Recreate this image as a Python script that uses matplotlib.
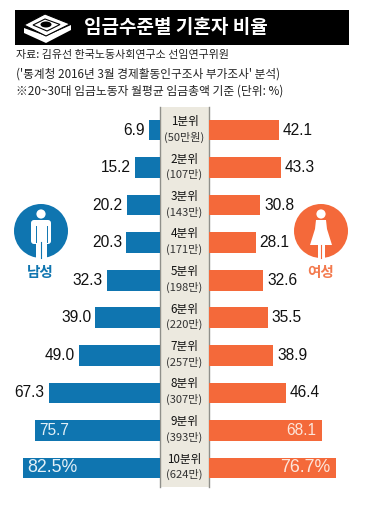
import matplotlib
matplotlib.use('Agg')
import matplotlib.pyplot as plt
from matplotlib.patches import Circle, Polygon, Rectangle, FancyBboxPatch, Ellipse

plt.rcParams['font.family'] = ['Noto Sans CJK KR', 'DejaVu Sans']
NUM = ['Liberation Sans', 'Noto Sans CJK KR']

deciles = ['1분위', '2분위', '3분위', '4분위', '5분위', '6분위', '7분위', '8분위', '9분위', '10분위']
wages = ['(50만원)', '(107만)', '(143만)', '(171만)', '(198만)', '(220만)', '(257만)', '(307만)', '(393만)', '(624만)']
male = [6.9, 15.2, 20.2, 20.3, 32.3, 39.0, 49.0, 67.3, 75.7, 82.5]
female = [42.1, 43.3, 30.8, 28.1, 32.6, 35.5, 38.9, 46.4, 68.1, 76.7]
male_labels = ['6.9', '15.2', '20.2', '20.3', '32.3', '39.0', '49.0', '67.3', '75.7', '82.5%']
female_labels = ['42.1', '43.3', '30.8', '28.1', '32.6', '35.5', '38.9', '46.4', '68.1', '76.7%']
title = '임금수준별 기혼자 비율'
notes = ['자료: 김유선 한국노동사회연구소 선임연구위원',
         "('통계청 2016년 3월 경제활동인구조사 부가조사' 분석)",
         '※20~30대 임금노동자 월평균 임금총액 기준 (단위: %)']

W, H = 371, 512
BLUE, ORANGE = '#0f75b0', '#f4693a'
fig = plt.figure(figsize=(W / 100, H / 100), dpi=100, facecolor='white')

bg = fig.add_axes([0, 0, 1, 1])
bg.set_xlim(0, W); bg.set_ylim(H, 0); bg.axis('off')

# header
bg.add_patch(Rectangle((15, 10), 334, 35, fc='black', ec='none'))
bg.add_patch(Polygon([[24, 28], [24, 33], [46, 43], [71, 30], [71, 25], [46, 36]], fc='white', ec='none'))
bg.add_patch(Polygon([[24, 25], [45, 14], [70, 24], [46, 36]], fc='white', ec='black', lw=0.8))
bg.add_patch(Polygon([[33, 25], [45, 19], [60, 24.5], [47, 31]], fc='white', ec='black', lw=0.8))
bg.add_patch(Ellipse((46, 24.5), 11, 6, fc='black', ec='none'))
bg.text(84, 27.5, title, color='white', fontsize=13.7, fontweight='bold', va='center', ha='left')
for txt, y, fs in zip(notes, [55, 74, 91], [7.9, 8.4, 8.5]):
    bg.text(16, y, txt, color='#222222', fontsize=fs, va='center', ha='left')

# centre column
bg.add_patch(Rectangle((160, 107), 49, 380, fc='#ece9df', ec='none'))
bg.plot([160, 160], [107, 487], color='#8f8f8a', lw=1)
bg.plot([209, 209], [107, 487], color='#8f8f8a', lw=1)

# bar axes: shared pixel-matched scale
PX = 1.655
top, bot = 111, 487
rows = list(range(len(deciles)))
ylim = (9 + (bot - 468) / 37.5, -(130 - top) / 37.5)

axL = fig.add_axes([0, 1 - bot / H, 160 / W, (bot - top) / H])
axL.set_xlim(160 / PX, 0); axL.set_ylim(*ylim); axL.axis('off'); axL.patch.set_alpha(0)
axL.barh(rows, male, height=0.55, color=BLUE)

axR = fig.add_axes([209 / W, 1 - bot / H, (W - 209) / W, (bot - top) / H])
axR.set_xlim(0, (W - 209) / PX); axR.set_ylim(*ylim); axR.axis('off'); axR.patch.set_alpha(0)
axR.barh(rows, female, height=0.55, color=ORANGE)

for i in rows:
    if i < 8:
        axL.annotate(male_labels[i], (male[i], i), xytext=(-3, 0), textcoords='offset points',
                     ha='right', va='center', fontsize=11.2, color='#111111', family=NUM)
        axR.annotate(female_labels[i], (female[i], i), xytext=(3, 0), textcoords='offset points',
                     ha='left', va='center', fontsize=11.2, color='#111111', family=NUM)
    else:
        fs = 11.2 if i == 8 else 12.8
        lc = '#e3f0f7'; rc = '#fde5da'
        axL.annotate(male_labels[i], (male[i], i), xytext=(3, 0), textcoords='offset points',
                     ha='left', va='center', fontsize=fs, color=lc, family=NUM)
        axR.annotate(female_labels[i], (female[i], i), xytext=(-4, 0), textcoords='offset points',
                     ha='right', va='center', fontsize=fs, color=rc, family=NUM)
    cy = 130 + i * 37.5
    bg.text(184.5, cy - 8.5, deciles[i], ha='center', va='center', fontsize=8.4, color='#111111')
    bg.text(184.5, cy + 7, wages[i], ha='center', va='center', fontsize=8.0, color='#333333')

# male icon
bg.add_patch(Circle((41, 231), 27, fc=BLUE, ec='none'))
bg.add_patch(Circle((41, 214), 4.6, fc='white', ec='none'))
bg.add_patch(FancyBboxPatch((31, 220), 20, 24, boxstyle='round,pad=0,rounding_size=3', fc='white', ec='none'))
bg.add_patch(Rectangle((35.5, 240), 11, 18, fc='white', ec='none'))
bg.plot([41, 41], [242, 258], color=BLUE, lw=0.8)
bg.plot([35.5, 35.5], [226, 242], color=BLUE, lw=0.7)
bg.plot([46.5, 46.5], [226, 242], color=BLUE, lw=0.7)
bg.text(40, 272, '남성', color=BLUE, fontsize=10.5, fontweight='bold', ha='center', va='center')

# female icon
bg.add_patch(Circle((321, 231), 27, fc=ORANGE, ec='none'))
bg.add_patch(Circle((321, 214), 4.6, fc='white', ec='none'))
bg.add_patch(Polygon([[316, 220], [326, 220], [327, 229], [332, 245], [310, 245], [315, 229]], fc='white', ec='none'))
bg.add_patch(Rectangle((317.5, 244), 7, 14, fc='white', ec='none'))
bg.plot([321, 321], [245, 258], color=ORANGE, lw=0.8)
bg.text(320.5, 272, '여성', color='#f37a4e', fontsize=10.5, fontweight='bold', ha='center', va='center')

fig.savefig('out.png', dpi=100, facecolor='white')
